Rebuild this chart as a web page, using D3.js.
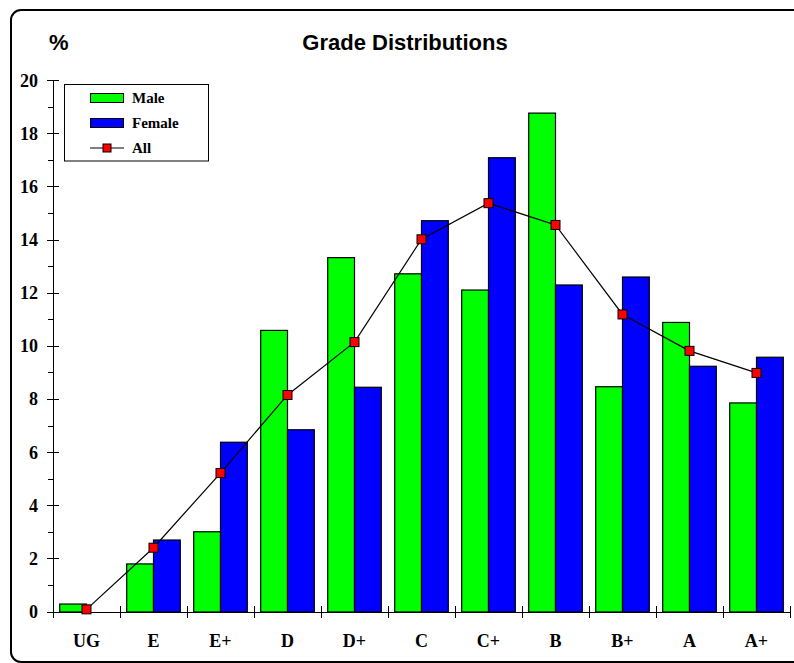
<html>
<head>
<script src="https://d3js.org/d3.v7.min.js"></script>
<style>
    body { margin: 0; background: #fff; }
    .frame { fill: none; stroke: #000; stroke-width: 2px; }
    .axis line, .axis path { stroke: #000; stroke-width: 1px; shape-rendering: crispEdges; }
    .tick-label { font-family: "Liberation Serif", serif; font-weight: bold; font-size: 18px; }
    .title { font-family: "Liberation Sans", Arial, sans-serif; font-weight: bold; font-size: 22px; }
    .legend-text { font-family: "Liberation Serif", serif; font-weight: bold; font-size: 15px; }
</style>
</head>
<body>
<svg id="the-chart" width="794" height="663"></svg>
<script>
    var grades = ['UG', 'E', 'E+', 'D', 'D+', 'C', 'C+', 'B', 'B+', 'A', 'A+'];
    var male   = [0.3, 1.81, 3.02, 10.6, 13.34, 12.73, 12.12, 18.78, 8.48, 10.9, 7.87];
    var female = [0, 2.71, 6.39, 6.86, 8.46, 14.73, 17.1, 12.31, 12.61, 9.25, 9.59];
    var all    = [0.1, 2.42, 5.23, 8.17, 10.16, 14.03, 15.39, 14.57, 11.2, 9.83, 9.0];
    var yTicks = [0, 2, 4, 6, 8, 10, 12, 14, 16, 18, 20];
    var seriesNames = ['Male', 'Female'];
    var seriesColors = ['#00ff00', '#0000ff'];

    var svg = d3.select('#the-chart');

    // outer rounded frame, runs off the right edge
    svg.append('rect')
        .attr('class', 'frame')
        .attr('x', 11).attr('y', 10)
        .attr('width', 820).attr('height', 652)
        .attr('rx', 10).attr('ry', 10);

    var plotLeft = 53, plotRight = 790, plotTop = 80.7, plotBottom = 612;

    var x = d3.scaleBand().domain(grades).range([plotLeft, plotRight]).paddingInner(0).paddingOuter(0);
    var inner = d3.scaleBand().domain(seriesNames).range([0, x.bandwidth()]).paddingInner(0).paddingOuter(0.25);
    var y = d3.scaleLinear().domain([0, 20]).range([plotBottom, plotTop]);

    // bars
    var groups = svg.append('g').selectAll('g')
        .data(grades)
        .join('g')
        .attr('transform', function(d) { return 'translate(' + x(d) + ',0)'; });

    groups.selectAll('rect')
        .data(function(d, i) { return [male[i], female[i]]; })
        .join('rect')
        .attr('x', function(d, j) { return inner(seriesNames[j]); })
        .attr('y', function(d) { return y(d); })
        .attr('width', inner.bandwidth())
        .attr('height', function(d) { return y(0) - y(d); })
        .attr('fill', function(d, j) { return seriesColors[j]; })
        .attr('stroke', function(d) { return d > 0 ? '#000' : 'none'; })
        .attr('stroke-width', 1.2);

    // y axis
    var yAxis = svg.append('g').attr('class', 'axis');
    yAxis.append('line')
        .attr('x1', plotLeft).attr('x2', plotLeft)
        .attr('y1', y(20)).attr('y2', y(0));
    yAxis.selectAll('.major')
        .data(yTicks)
        .join('line')
        .attr('class', 'major')
        .attr('x1', plotLeft - 6).attr('x2', plotLeft + 6)
        .attr('y1', function(d) { return y(d); })
        .attr('y2', function(d) { return y(d); });
    yAxis.selectAll('.minor')
        .data(d3.range(1, 20, 2))
        .join('line')
        .attr('class', 'minor')
        .attr('x1', plotLeft - 5).attr('x2', plotLeft)
        .attr('y1', function(d) { return y(d); })
        .attr('y2', function(d) { return y(d); });
    yAxis.selectAll('text')
        .data(yTicks)
        .join('text')
        .attr('class', 'tick-label')
        .attr('x', 38)
        .attr('y', function(d) { return y(d) + 6; })
        .attr('text-anchor', 'end')
        .text(function(d) { return d; });

    // x axis
    var xAxis = svg.append('g').attr('class', 'axis');
    xAxis.append('line')
        .attr('x1', plotLeft).attr('x2', plotRight)
        .attr('y1', y(0)).attr('y2', y(0));
    xAxis.selectAll('.xt')
        .data(grades.concat(['end']))
        .join('line')
        .attr('class', 'xt')
        .attr('x1', function(d, i) { return plotLeft + i * x.step(); })
        .attr('x2', function(d, i) { return plotLeft + i * x.step(); })
        .attr('y1', y(0) - 6).attr('y2', y(0) + 6);
    xAxis.selectAll('text')
        .data(grades)
        .join('text')
        .attr('class', 'tick-label')
        .attr('x', function(d) { return x(d) + x.bandwidth() / 2; })
        .attr('y', 647)
        .attr('text-anchor', 'middle')
        .text(function(d) { return d; });

    // all line
    var line = d3.line()
        .x(function(d, i) { return x(grades[i]) + x.bandwidth() / 2; })
        .y(function(d) { return y(d); });
    svg.append('path')
        .datum(all)
        .attr('d', line)
        .attr('fill', 'none')
        .attr('stroke', '#000')
        .attr('stroke-width', 1.2);
    svg.append('g').selectAll('rect')
        .data(all)
        .join('rect')
        .attr('x', function(d, i) { return x(grades[i]) + x.bandwidth() / 2 - 4.5; })
        .attr('y', function(d) { return y(d) - 4.5; })
        .attr('width', 9).attr('height', 9)
        .attr('fill', '#ff0000')
        .attr('stroke', '#000')
        .attr('stroke-width', 1);

    // titles
    svg.append('text').attr('class', 'title')
        .attr('x', 405).attr('y', 50)
        .attr('text-anchor', 'middle')
        .text('Grade Distributions');
    svg.append('text').attr('class', 'title')
        .attr('x', 49).attr('y', 50)
        .text('%');

    // legend
    var lg = svg.append('g');
    lg.append('rect')
        .attr('x', 64.5).attr('y', 84.5)
        .attr('width', 144).attr('height', 76.5)
        .attr('fill', '#fff').attr('stroke', '#000').attr('stroke-width', 1);
    seriesNames.forEach(function(name, i) {
        var cy = 98 + i * 25;
        lg.append('rect')
            .attr('x', 90.5).attr('y', cy - 4.5)
            .attr('width', 33).attr('height', 9)
            .attr('fill', seriesColors[i]).attr('stroke', '#000').attr('stroke-width', 1);
        lg.append('text').attr('class', 'legend-text')
            .attr('x', 132).attr('y', cy + 5)
            .text(name);
    });
    var ay = 148;
    lg.append('line')
        .attr('x1', 90).attr('x2', 124)
        .attr('y1', ay).attr('y2', ay)
        .attr('stroke', '#000').attr('stroke-width', 1.2);
    lg.append('rect')
        .attr('x', 103).attr('y', ay - 4)
        .attr('width', 8).attr('height', 8)
        .attr('fill', '#ff0000').attr('stroke', '#000');
    lg.append('text').attr('class', 'legend-text')
        .attr('x', 132).attr('y', ay + 5)
        .text('All');
</script>
</body>
</html>
